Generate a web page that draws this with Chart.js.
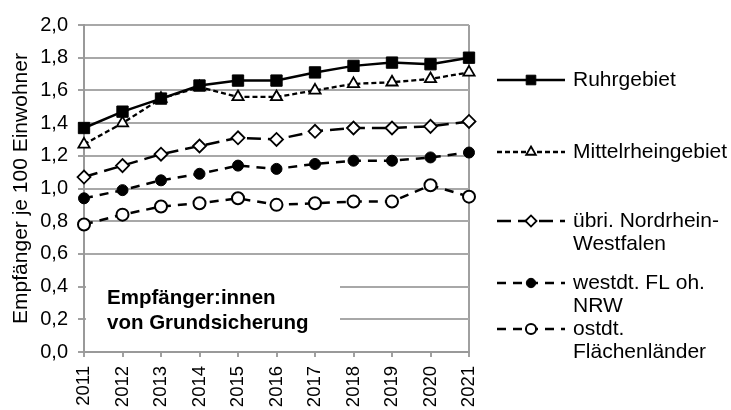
<!DOCTYPE html>
<html>
<head>
<meta charset="utf-8">
<script src="https://cdn.jsdelivr.net/npm/chart.js@4/dist/chart.umd.min.js"></script>
<style>
  html, body { margin: 0; padding: 0; background: #fff; }
  #wrap { width: 731px; height: 410px; }
</style>
</head>
<body>
<div id="wrap"><canvas id="lineCanvas"></canvas></div>
<script>
const years = ["2011", "2012", "2013", "2014", "2015", "2016", "2017", "2018", "2019", "2020", "2021"];
const ruhrgebiet = [1.37, 1.47, 1.55, 1.63, 1.66, 1.66, 1.71, 1.75, 1.77, 1.76, 1.80];
const mittelrhein = [1.27, 1.40, 1.55, 1.62, 1.56, 1.56, 1.60, 1.64, 1.65, 1.67, 1.71];
const uebrigesNrw = [1.07, 1.14, 1.21, 1.26, 1.31, 1.30, 1.35, 1.37, 1.37, 1.38, 1.41];
const westdtFl = [0.94, 0.99, 1.05, 1.09, 1.14, 1.12, 1.15, 1.17, 1.17, 1.19, 1.22];
const ostdtFl = [0.78, 0.84, 0.89, 0.91, 0.94, 0.90, 0.91, 0.92, 0.92, 1.02, 0.95];
const seriesNames = [
    ["Ruhrgebiet"],
    ["Mittelrheingebiet"],
    ["übri. Nordrhein-", "Westfalen"],
    ["westdt. FL oh.", "NRW"],
    ["ostdt.", "Flächenländer"]
];
const boxText = ["Empfänger:innen", "von Grundsicherung"];
const yTitle = "Empfänger je 100 Einwohner";

const FONT = "'Liberation Sans', Arial, sans-serif";

// legend on the right, drawn by hand so the labels can wrap
const sideLegend = {
    id: "sideLegend",
    afterDraw(chart) {
        const ctx = chart.ctx;
        const x0 = chart.chartArea.right + 28;
        const rowY = [80, 152, 221, 283, 329];
        ctx.save();
        chart.data.datasets.forEach((ds, i) => {
            const y = rowY[i];
            ctx.strokeStyle = "#000";
            ctx.lineWidth = ds.borderWidth;
            ctx.setLineDash(ds.borderDash || []);
            ctx.beginPath();
            ctx.moveTo(x0, y);
            ctx.lineTo(x0 + 68, y);
            ctx.stroke();
            ctx.setLineDash([]);
            ctx.fillStyle = ds.pointBackgroundColor;
            ctx.strokeStyle = "#000";
            ctx.lineWidth = ds.pointBorderWidth;
            Chart.helpers.drawPoint(ctx, {
                pointStyle: ds.pointStyle,
                radius: ds.pointRadius * 0.85,
                borderWidth: ds.pointBorderWidth,
                rotation: 0
            }, x0 + 34, y);
            ctx.fillStyle = "#000";
            ctx.font = "21px " + FONT;
            ctx.textBaseline = "middle";
            ctx.textAlign = "left";
            seriesNames[i].forEach((line, k) => {
                ctx.fillText(line, x0 + 76, y + k * 23);
            });
        });
        ctx.restore();
    }
};

// white box with the bold note, over the lower grid lines
const noteBox = {
    id: "noteBox",
    beforeDatasetsDraw(chart) {
        const ctx = chart.ctx;
        const a = chart.chartArea;
        ctx.save();
        ctx.fillStyle = "#fff";
        ctx.fillRect(a.left + 2, a.bottom - 90, 254, 87);
        ctx.fillStyle = "#000";
        ctx.font = "bold 20.5px " + FONT;
        ctx.textBaseline = "middle";
        ctx.fillText(boxText[0], a.left + 23, a.bottom - 54);
        ctx.fillText(boxText[1], a.left + 23, a.bottom - 29);
        ctx.restore();
    }
};

function makeSet(label, data, style) {
    return Object.assign({
        label: label,
        data: data,
        borderColor: "#000",
        pointBorderColor: "#000",
        fill: false,
        tension: 0,
        clip: false
    }, style);
}

const lineCanvas = document.getElementById("lineCanvas");
const lineChart = new Chart(lineCanvas, {
    type: "line",
    data: {
        labels: years,
        datasets: [
            makeSet(seriesNames[0].join(" "), ruhrgebiet, {
                borderWidth: 2.5, pointStyle: "rect", pointRadius: 8,
                pointBackgroundColor: "#000", pointBorderWidth: 1
            }),
            makeSet(seriesNames[1].join(" "), mittelrhein, {
                borderWidth: 2.3, borderDash: [5, 3], pointStyle: "triangle", pointRadius: 6.5,
                pointBackgroundColor: "#fff", pointBorderWidth: 1.8
            }),
            makeSet(seriesNames[2].join(" "), uebrigesNrw, {
                borderWidth: 2.5, borderDash: [14, 7], pointStyle: "rectRot", pointRadius: 6.5,
                pointBackgroundColor: "#fff", pointBorderWidth: 1.8
            }),
            makeSet(seriesNames[3].join(" "), westdtFl, {
                borderWidth: 2.5, borderDash: [9, 7], pointStyle: "circle", pointRadius: 5.5,
                pointBackgroundColor: "#000", pointBorderWidth: 1
            }),
            makeSet(seriesNames[4].join(" "), ostdtFl, {
                borderWidth: 2.5, borderDash: [9, 7], pointStyle: "circle", pointRadius: 6,
                pointBackgroundColor: "#fff", pointBorderWidth: 2
            })
        ]
    },
    options: {
        responsive: true,
        maintainAspectRatio: false,
        animation: false,
        layout: {
            padding: { left: 0, right: 262, top: 25, bottom: 0 }
        },
        scales: {
            x: {
                offset: false,
                afterFit(scale) { scale.height = 58; },
                grid: {
                    color: (c) => c.index === years.length - 1 ? "#a0a0a0" : "rgba(0,0,0,0)",
                    lineWidth: 2,
                    tickColor: "#a0a0a0",
                    tickLength: 5
                },
                border: { color: "#999", width: 2 },
                ticks: {
                    minRotation: 90,
                    maxRotation: 90,
                    padding: 9,
                    color: "#000",
                    font: { size: 18.5, family: FONT }
                }
            },
            y: {
                min: 0,
                max: 2,
                afterFit(scale) { scale.width = 84; },
                grid: {
                    color: "#a8a8a8",
                    lineWidth: 2,
                    tickColor: "#a0a0a0",
                    tickLength: 6
                },
                border: { color: "#999", width: 2 },
                ticks: {
                    stepSize: 0.2,
                    padding: 10,
                    color: "#000",
                    font: { size: 20, family: FONT },
                    callback: (v) => v.toFixed(1).replace(".", ",")
                },
                title: {
                    display: true,
                    text: yTitle,
                    color: "#000",
                    padding: { top: 9, bottom: 0 },
                    font: { size: 21, family: FONT }
                }
            }
        },
        plugins: {
            legend: { display: false },
            tooltip: { enabled: false }
        }
    },
    plugins: [noteBox, sideLegend]
});
</script>
</body>
</html>
